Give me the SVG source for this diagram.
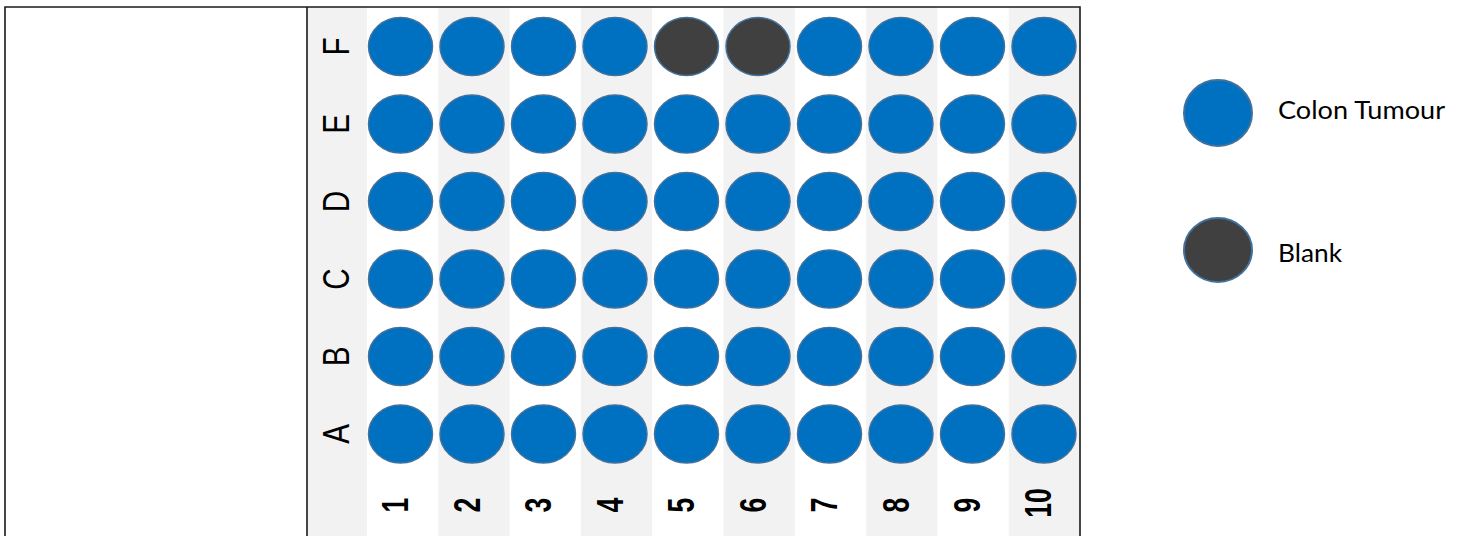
<svg xmlns="http://www.w3.org/2000/svg" width="1465" height="536" viewBox="0 0 1465 536">
<style>
.bg{fill:#ffffff}
.stripe{fill:#F2F2F2}
.frame{stroke:#1a1a1a;stroke-width:1.6;fill:none}
.well{fill:#0070C0;stroke:#41719C;stroke-width:1.5}
.blank{fill:#404040;stroke:#41719C;stroke-width:1.5}
.lg{stroke:#41719C;stroke-width:2}
.row{font-family:"Liberation Sans",Arial,sans-serif;font-size:37px;fill:#000;text-anchor:middle}
.col{font-family:"Liberation Sans",Arial,sans-serif;font-size:37px;font-weight:bold;fill:#000;text-anchor:middle}
.leg{font-family:Lato,"Open Sans",sans-serif;font-size:25px;fill:#000}
</style>
<rect class="bg" x="0" y="0" width="1465" height="536"/>
<g id="plate-background">
<rect class="stripe" x="307" y="7" width="60" height="529"/>
<rect class="stripe" x="438.3" y="7" width="71.3" height="529"/>
<rect class="stripe" x="580.9" y="7" width="71.3" height="529"/>
<rect class="stripe" x="723.5" y="7" width="71.3" height="529"/>
<rect class="stripe" x="866.1" y="7" width="71.3" height="529"/>
<rect class="stripe" x="1008.7" y="7" width="71.3" height="529"/>
</g>
<g id="frame">
<path class="frame" d="M5 537 V7 H1080 V537 M307 7 V537"/>
</g>
<g id="row-labels">
<text class="row" transform="translate(349,46.5) rotate(-90) scale(0.8,1)">F</text>
<text class="row" transform="translate(349,124) rotate(-90) scale(0.8,1)">E</text>
<text class="row" transform="translate(349,201.5) rotate(-90) scale(0.8,1)">D</text>
<text class="row" transform="translate(349,279) rotate(-90) scale(0.8,1)">C</text>
<text class="row" transform="translate(349,356.5) rotate(-90) scale(0.8,1)">B</text>
<text class="row" transform="translate(349,434) rotate(-90) scale(0.8,1)">A</text>
</g>
<g id="column-labels">
<text class="col" transform="translate(408,505) rotate(-90) scale(0.72,1)">1</text>
<text class="col" transform="translate(479.5,505) rotate(-90) scale(0.72,1)">2</text>
<text class="col" transform="translate(551,505) rotate(-90) scale(0.72,1)">3</text>
<text class="col" transform="translate(622.5,505) rotate(-90) scale(0.72,1)">4</text>
<text class="col" transform="translate(694,505) rotate(-90) scale(0.72,1)">5</text>
<text class="col" transform="translate(765.5,505) rotate(-90) scale(0.72,1)">6</text>
<text class="col" transform="translate(837,505) rotate(-90) scale(0.72,1)">7</text>
<text class="col" transform="translate(908.5,505) rotate(-90) scale(0.72,1)">8</text>
<text class="col" transform="translate(980,505) rotate(-90) scale(0.72,1)">9</text>
<text class="col" transform="translate(1051,503) rotate(-90) scale(0.72,1)">10</text>
</g>
<g id="wells">
<g id="row-F">
<ellipse class="well" cx="400.5" cy="46.5" rx="32" ry="29"/>
<ellipse class="well" cx="472" cy="46.5" rx="32" ry="29"/>
<ellipse class="well" cx="543.5" cy="46.5" rx="32" ry="29"/>
<ellipse class="well" cx="615" cy="46.5" rx="32" ry="29"/>
<ellipse class="blank" cx="686.5" cy="46.5" rx="32" ry="29"/>
<ellipse class="blank" cx="758" cy="46.5" rx="32" ry="29"/>
<ellipse class="well" cx="829.5" cy="46.5" rx="32" ry="29"/>
<ellipse class="well" cx="901" cy="46.5" rx="32" ry="29"/>
<ellipse class="well" cx="972.5" cy="46.5" rx="32" ry="29"/>
<ellipse class="well" cx="1044" cy="46.5" rx="32" ry="29"/>
</g>
<g id="row-E">
<ellipse class="well" cx="400.5" cy="124" rx="32" ry="29"/>
<ellipse class="well" cx="472" cy="124" rx="32" ry="29"/>
<ellipse class="well" cx="543.5" cy="124" rx="32" ry="29"/>
<ellipse class="well" cx="615" cy="124" rx="32" ry="29"/>
<ellipse class="well" cx="686.5" cy="124" rx="32" ry="29"/>
<ellipse class="well" cx="758" cy="124" rx="32" ry="29"/>
<ellipse class="well" cx="829.5" cy="124" rx="32" ry="29"/>
<ellipse class="well" cx="901" cy="124" rx="32" ry="29"/>
<ellipse class="well" cx="972.5" cy="124" rx="32" ry="29"/>
<ellipse class="well" cx="1044" cy="124" rx="32" ry="29"/>
</g>
<g id="row-D">
<ellipse class="well" cx="400.5" cy="201.5" rx="32" ry="29"/>
<ellipse class="well" cx="472" cy="201.5" rx="32" ry="29"/>
<ellipse class="well" cx="543.5" cy="201.5" rx="32" ry="29"/>
<ellipse class="well" cx="615" cy="201.5" rx="32" ry="29"/>
<ellipse class="well" cx="686.5" cy="201.5" rx="32" ry="29"/>
<ellipse class="well" cx="758" cy="201.5" rx="32" ry="29"/>
<ellipse class="well" cx="829.5" cy="201.5" rx="32" ry="29"/>
<ellipse class="well" cx="901" cy="201.5" rx="32" ry="29"/>
<ellipse class="well" cx="972.5" cy="201.5" rx="32" ry="29"/>
<ellipse class="well" cx="1044" cy="201.5" rx="32" ry="29"/>
</g>
<g id="row-C">
<ellipse class="well" cx="400.5" cy="279" rx="32" ry="29"/>
<ellipse class="well" cx="472" cy="279" rx="32" ry="29"/>
<ellipse class="well" cx="543.5" cy="279" rx="32" ry="29"/>
<ellipse class="well" cx="615" cy="279" rx="32" ry="29"/>
<ellipse class="well" cx="686.5" cy="279" rx="32" ry="29"/>
<ellipse class="well" cx="758" cy="279" rx="32" ry="29"/>
<ellipse class="well" cx="829.5" cy="279" rx="32" ry="29"/>
<ellipse class="well" cx="901" cy="279" rx="32" ry="29"/>
<ellipse class="well" cx="972.5" cy="279" rx="32" ry="29"/>
<ellipse class="well" cx="1044" cy="279" rx="32" ry="29"/>
</g>
<g id="row-B">
<ellipse class="well" cx="400.5" cy="356.5" rx="32" ry="29"/>
<ellipse class="well" cx="472" cy="356.5" rx="32" ry="29"/>
<ellipse class="well" cx="543.5" cy="356.5" rx="32" ry="29"/>
<ellipse class="well" cx="615" cy="356.5" rx="32" ry="29"/>
<ellipse class="well" cx="686.5" cy="356.5" rx="32" ry="29"/>
<ellipse class="well" cx="758" cy="356.5" rx="32" ry="29"/>
<ellipse class="well" cx="829.5" cy="356.5" rx="32" ry="29"/>
<ellipse class="well" cx="901" cy="356.5" rx="32" ry="29"/>
<ellipse class="well" cx="972.5" cy="356.5" rx="32" ry="29"/>
<ellipse class="well" cx="1044" cy="356.5" rx="32" ry="29"/>
</g>
<g id="row-A">
<ellipse class="well" cx="400.5" cy="434" rx="32" ry="29"/>
<ellipse class="well" cx="472" cy="434" rx="32" ry="29"/>
<ellipse class="well" cx="543.5" cy="434" rx="32" ry="29"/>
<ellipse class="well" cx="615" cy="434" rx="32" ry="29"/>
<ellipse class="well" cx="686.5" cy="434" rx="32" ry="29"/>
<ellipse class="well" cx="758" cy="434" rx="32" ry="29"/>
<ellipse class="well" cx="829.5" cy="434" rx="32" ry="29"/>
<ellipse class="well" cx="901" cy="434" rx="32" ry="29"/>
<ellipse class="well" cx="972.5" cy="434" rx="32" ry="29"/>
<ellipse class="well" cx="1044" cy="434" rx="32" ry="29"/>
</g>
</g>
<g id="legend-colon-tumour">
<ellipse class="well lg" cx="1218" cy="113" rx="34" ry="33"/>
<text class="leg" x="1278" y="119" textLength="167" lengthAdjust="spacingAndGlyphs">Colon Tumour</text>
</g>
<g id="legend-blank">
<ellipse class="blank lg" cx="1218" cy="250" rx="34" ry="32"/>
<text class="leg" x="1278" y="262" textLength="64" lengthAdjust="spacingAndGlyphs">Blank</text>
</g>
</svg>
